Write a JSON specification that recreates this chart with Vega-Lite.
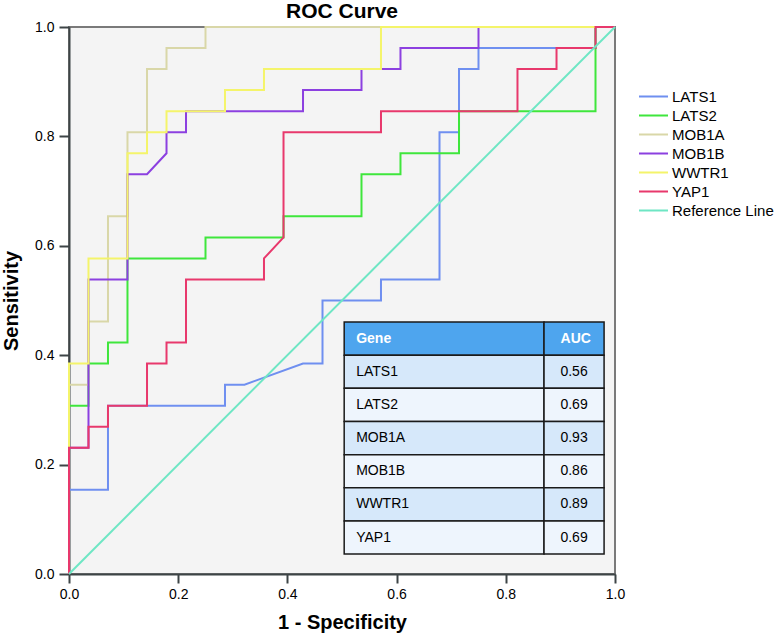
{
  "$schema": "https://vega.github.io/schema/vega-lite/v6.json",
  "width": 546,
  "height": 547,
  "autosize": "none",
  "padding": {"left": 69, "top": 27, "right": 162, "bottom": 59},
  "background": "white",
  "config": {
    "font": "Liberation Sans",
    "view": {"fill": "#f4f4f4", "stroke": "#7a7a7a", "strokeWidth": 2}
  },
  "title": {"text": "ROC Curve", "fontSize": 21, "fontWeight": "bold", "color": "black", "anchor": "middle", "offset": -2},
  "datasets": {
    "roc": [
      {"gene":"LATS1","i":0,"fpr":0,"tpr":0},{"gene":"LATS1","i":1,"fpr":0,"tpr":0.1538},{"gene":"LATS1","i":2,"fpr":0.0714,"tpr":0.1538},{"gene":"LATS1","i":3,"fpr":0.0714,"tpr":0.3077},{"gene":"LATS1","i":4,"fpr":0.2857,"tpr":0.3077},{"gene":"LATS1","i":5,"fpr":0.2857,"tpr":0.3462},{"gene":"LATS1","i":6,"fpr":0.3214,"tpr":0.3462},{"gene":"LATS1","i":7,"fpr":0.4286,"tpr":0.3846},{"gene":"LATS1","i":8,"fpr":0.4643,"tpr":0.3846},{"gene":"LATS1","i":9,"fpr":0.4643,"tpr":0.5},{"gene":"LATS1","i":10,"fpr":0.5714,"tpr":0.5},{"gene":"LATS1","i":11,"fpr":0.5714,"tpr":0.5385},{"gene":"LATS1","i":12,"fpr":0.6786,"tpr":0.5385},{"gene":"LATS1","i":13,"fpr":0.6786,"tpr":0.8077},{"gene":"LATS1","i":14,"fpr":0.7143,"tpr":0.8077},{"gene":"LATS1","i":15,"fpr":0.7143,"tpr":0.9231},{"gene":"LATS1","i":16,"fpr":0.75,"tpr":0.9231},{"gene":"LATS1","i":17,"fpr":0.75,"tpr":0.9615},{"gene":"LATS1","i":18,"fpr":0.9643,"tpr":0.9615},{"gene":"LATS1","i":19,"fpr":0.9643,"tpr":1},{"gene":"LATS1","i":20,"fpr":1,"tpr":1},
      {"gene":"LATS2","i":0,"fpr":0,"tpr":0},{"gene":"LATS2","i":1,"fpr":0,"tpr":0.3077},{"gene":"LATS2","i":2,"fpr":0.0357,"tpr":0.3077},{"gene":"LATS2","i":3,"fpr":0.0357,"tpr":0.3846},{"gene":"LATS2","i":4,"fpr":0.0714,"tpr":0.3846},{"gene":"LATS2","i":5,"fpr":0.0714,"tpr":0.4231},{"gene":"LATS2","i":6,"fpr":0.1071,"tpr":0.4231},{"gene":"LATS2","i":7,"fpr":0.1071,"tpr":0.5769},{"gene":"LATS2","i":8,"fpr":0.25,"tpr":0.5769},{"gene":"LATS2","i":9,"fpr":0.25,"tpr":0.6154},{"gene":"LATS2","i":10,"fpr":0.3929,"tpr":0.6154},{"gene":"LATS2","i":11,"fpr":0.3929,"tpr":0.6538},{"gene":"LATS2","i":12,"fpr":0.5357,"tpr":0.6538},{"gene":"LATS2","i":13,"fpr":0.5357,"tpr":0.7308},{"gene":"LATS2","i":14,"fpr":0.6071,"tpr":0.7308},{"gene":"LATS2","i":15,"fpr":0.6071,"tpr":0.7692},{"gene":"LATS2","i":16,"fpr":0.7143,"tpr":0.7692},{"gene":"LATS2","i":17,"fpr":0.7143,"tpr":0.8462},{"gene":"LATS2","i":18,"fpr":0.9643,"tpr":0.8462},{"gene":"LATS2","i":19,"fpr":0.9643,"tpr":1},{"gene":"LATS2","i":20,"fpr":1,"tpr":1},
      {"gene":"MOB1A","i":0,"fpr":0,"tpr":0},{"gene":"MOB1A","i":1,"fpr":0,"tpr":0.3462},{"gene":"MOB1A","i":2,"fpr":0.0357,"tpr":0.3462},{"gene":"MOB1A","i":3,"fpr":0.0357,"tpr":0.4615},{"gene":"MOB1A","i":4,"fpr":0.0714,"tpr":0.4615},{"gene":"MOB1A","i":5,"fpr":0.0714,"tpr":0.6538},{"gene":"MOB1A","i":6,"fpr":0.1071,"tpr":0.6538},{"gene":"MOB1A","i":7,"fpr":0.1071,"tpr":0.8077},{"gene":"MOB1A","i":8,"fpr":0.1429,"tpr":0.8077},{"gene":"MOB1A","i":9,"fpr":0.1429,"tpr":0.9231},{"gene":"MOB1A","i":10,"fpr":0.1786,"tpr":0.9231},{"gene":"MOB1A","i":11,"fpr":0.1786,"tpr":0.9615},{"gene":"MOB1A","i":12,"fpr":0.25,"tpr":0.9615},{"gene":"MOB1A","i":13,"fpr":0.25,"tpr":1},{"gene":"MOB1A","i":14,"fpr":1,"tpr":1},
      {"gene":"MOB1B","i":0,"fpr":0,"tpr":0},{"gene":"MOB1B","i":1,"fpr":0,"tpr":0.2308},{"gene":"MOB1B","i":2,"fpr":0.0357,"tpr":0.2308},{"gene":"MOB1B","i":3,"fpr":0.0357,"tpr":0.5385},{"gene":"MOB1B","i":4,"fpr":0.1071,"tpr":0.5385},{"gene":"MOB1B","i":5,"fpr":0.1071,"tpr":0.7308},{"gene":"MOB1B","i":6,"fpr":0.1429,"tpr":0.7308},{"gene":"MOB1B","i":7,"fpr":0.1786,"tpr":0.7692},{"gene":"MOB1B","i":8,"fpr":0.1786,"tpr":0.8077},{"gene":"MOB1B","i":9,"fpr":0.2143,"tpr":0.8077},{"gene":"MOB1B","i":10,"fpr":0.2143,"tpr":0.8462},{"gene":"MOB1B","i":11,"fpr":0.4286,"tpr":0.8462},{"gene":"MOB1B","i":12,"fpr":0.4286,"tpr":0.8846},{"gene":"MOB1B","i":13,"fpr":0.5357,"tpr":0.8846},{"gene":"MOB1B","i":14,"fpr":0.5357,"tpr":0.9231},{"gene":"MOB1B","i":15,"fpr":0.6071,"tpr":0.9231},{"gene":"MOB1B","i":16,"fpr":0.6071,"tpr":0.9615},{"gene":"MOB1B","i":17,"fpr":0.75,"tpr":0.9615},{"gene":"MOB1B","i":18,"fpr":0.75,"tpr":1},{"gene":"MOB1B","i":19,"fpr":1,"tpr":1},
      {"gene":"WWTR1","i":0,"fpr":0,"tpr":0},{"gene":"WWTR1","i":1,"fpr":0,"tpr":0.3846},{"gene":"WWTR1","i":2,"fpr":0.0357,"tpr":0.3846},{"gene":"WWTR1","i":3,"fpr":0.0357,"tpr":0.5769},{"gene":"WWTR1","i":4,"fpr":0.1071,"tpr":0.5769},{"gene":"WWTR1","i":5,"fpr":0.1071,"tpr":0.7692},{"gene":"WWTR1","i":6,"fpr":0.1429,"tpr":0.7692},{"gene":"WWTR1","i":7,"fpr":0.1429,"tpr":0.8077},{"gene":"WWTR1","i":8,"fpr":0.1786,"tpr":0.8077},{"gene":"WWTR1","i":9,"fpr":0.1786,"tpr":0.8462},{"gene":"WWTR1","i":10,"fpr":0.2857,"tpr":0.8462},{"gene":"WWTR1","i":11,"fpr":0.2857,"tpr":0.8846},{"gene":"WWTR1","i":12,"fpr":0.3571,"tpr":0.8846},{"gene":"WWTR1","i":13,"fpr":0.3571,"tpr":0.9231},{"gene":"WWTR1","i":14,"fpr":0.5714,"tpr":0.9231},{"gene":"WWTR1","i":15,"fpr":0.5714,"tpr":1},{"gene":"WWTR1","i":16,"fpr":1,"tpr":1},
      {"gene":"YAP1","i":0,"fpr":0,"tpr":0},{"gene":"YAP1","i":1,"fpr":0,"tpr":0.2308},{"gene":"YAP1","i":2,"fpr":0.0357,"tpr":0.2308},{"gene":"YAP1","i":3,"fpr":0.0357,"tpr":0.2692},{"gene":"YAP1","i":4,"fpr":0.0714,"tpr":0.2692},{"gene":"YAP1","i":5,"fpr":0.0714,"tpr":0.3077},{"gene":"YAP1","i":6,"fpr":0.1429,"tpr":0.3077},{"gene":"YAP1","i":7,"fpr":0.1429,"tpr":0.3846},{"gene":"YAP1","i":8,"fpr":0.1786,"tpr":0.3846},{"gene":"YAP1","i":9,"fpr":0.1786,"tpr":0.4231},{"gene":"YAP1","i":10,"fpr":0.2143,"tpr":0.4231},{"gene":"YAP1","i":11,"fpr":0.2143,"tpr":0.5385},{"gene":"YAP1","i":12,"fpr":0.3571,"tpr":0.5385},{"gene":"YAP1","i":13,"fpr":0.3571,"tpr":0.5769},{"gene":"YAP1","i":14,"fpr":0.3929,"tpr":0.6154},{"gene":"YAP1","i":15,"fpr":0.3929,"tpr":0.8077},{"gene":"YAP1","i":16,"fpr":0.5714,"tpr":0.8077},{"gene":"YAP1","i":17,"fpr":0.5714,"tpr":0.8462},{"gene":"YAP1","i":18,"fpr":0.8214,"tpr":0.8462},{"gene":"YAP1","i":19,"fpr":0.8214,"tpr":0.9231},{"gene":"YAP1","i":20,"fpr":0.8929,"tpr":0.9231},{"gene":"YAP1","i":21,"fpr":0.8929,"tpr":0.9615},{"gene":"YAP1","i":22,"fpr":0.9643,"tpr":0.9615},{"gene":"YAP1","i":23,"fpr":0.9643,"tpr":1},{"gene":"YAP1","i":24,"fpr":1,"tpr":1},
      {"gene":"Reference Line","i":0,"fpr":0,"tpr":0},{"gene":"Reference Line","i":1,"fpr":1,"tpr":1}
    ],
    "auc": [
      {"Gene":"Gene","AUC":"AUC"},
      {"Gene":"LATS1","AUC":"0.56"},
      {"Gene":"LATS2","AUC":"0.69"},
      {"Gene":"MOB1A","AUC":"0.93"},
      {"Gene":"MOB1B","AUC":"0.86"},
      {"Gene":"WWTR1","AUC":"0.89"},
      {"Gene":"YAP1","AUC":"0.69"}
    ]
  },
  "layer": [
    {
      "data": {"name": "roc"},
      "mark": {"type": "line", "strokeWidth": 2},
      "encoding": {
        "x": {"field": "fpr", "type": "quantitative",
          "scale": {"domain": [0, 1], "nice": false, "zero": true},
          "axis": {"values": [0, 0.2, 0.4, 0.6, 0.8, 1], "format": ".1f", "title": "1 - Specificity", "grid": false,
            "tickSize": 9, "tickWidth": 2, "tickColor": "#3d4446", "domainColor": "#3d4446", "domainWidth": 2,
            "labelFontSize": 14, "labelColor": "black", "labelPadding": 4, "labelFlush": false,
            "titleFontSize": 20, "titleFontWeight": "bold", "titleColor": "black", "titlePadding": 11}},
        "y": {"field": "tpr", "type": "quantitative",
          "scale": {"domain": [0, 1], "nice": false, "zero": true},
          "axis": {"values": [0, 0.2, 0.4, 0.6, 0.8, 1], "format": ".1f", "title": "Sensitivity", "grid": false,
            "tickSize": 10, "tickWidth": 2, "tickColor": "#3d4446", "domainColor": "#3d4446", "domainWidth": 2,
            "labelFontSize": 14, "labelColor": "black", "labelPadding": 5, "labelFlush": false,
            "titleFontSize": 20, "titleFontWeight": "bold", "titleColor": "black", "titlePadding": 13}},
        "color": {"field": "gene", "type": "nominal",
          "scale": {"domain": ["LATS1", "LATS2", "MOB1A", "MOB1B", "WWTR1", "YAP1", "Reference Line"],
            "range": ["#6f8ff0", "#3fe63c", "#d9d7a8", "#8c40e0", "#f4f46a", "#e8386c", "#6ee6c4"]},
          "legend": {"title": null, "orient": "none", "legendX": 569, "legendY": 62, "padding": 0,
            "symbolType": "stroke", "symbolSize": 841, "symbolStrokeWidth": 2, "clipHeight": 15, "rowPadding": 3,
            "labelFontSize": 15, "labelColor": "black", "labelOffset": 3}},
        "order": {"field": "i", "type": "quantitative"}
      }
    },
    {
      "data": {"name": "auc"},
      "encoding": {
        "y": {"field": "Gene", "type": "nominal",
          "scale": {"domain": ["_1", "_2", "_3", "_4", "_5", "_6", "_7", "_8", "Gene", "LATS1", "LATS2", "MOB1A", "MOB1B", "WWTR1", "YAP1"], "paddingInner": 0, "paddingOuter": 0.75, "align": 0.6},
          "axis": null}
      },
      "layer": [
        {
          "mark": {"type": "rect", "stroke": "#1a1a1a", "strokeWidth": 1.5},
          "encoding": {
            "x": {"datum": 0.504, "type": "quantitative"},
            "x2": {"datum": 0.87},
            "fill": {"field": "Gene", "type": "nominal",
              "scale": {"domain": ["Gene", "LATS1", "LATS2", "MOB1A", "MOB1B", "WWTR1", "YAP1"],
                "range": ["#4ea5ee", "#d6e8fa", "#eef5fd", "#d6e8fa", "#eef5fd", "#d6e8fa", "#eef5fd"]},
              "legend": null}
          }
        },
        {
          "mark": {"type": "rect", "stroke": "#1a1a1a", "strokeWidth": 1.5},
          "encoding": {
            "x": {"datum": 0.87, "type": "quantitative"},
            "x2": {"datum": 0.98},
            "fill": {"field": "Gene", "type": "nominal", "legend": null}
          }
        },
        {
          "transform": [{"filter": "datum.Gene === 'Gene'"}],
          "mark": {"type": "text", "align": "left", "baseline": "middle", "fontSize": 14, "fontWeight": "bold", "color": "white"},
          "encoding": {"x": {"datum": 0.526, "type": "quantitative"}, "text": {"field": "Gene"}}
        },
        {
          "transform": [{"filter": "datum.Gene === 'Gene'"}],
          "mark": {"type": "text", "align": "center", "baseline": "middle", "fontSize": 14, "fontWeight": "bold", "color": "white"},
          "encoding": {"x": {"datum": 0.928, "type": "quantitative"}, "text": {"field": "AUC"}}
        },
        {
          "transform": [{"filter": "datum.Gene !== 'Gene'"}],
          "mark": {"type": "text", "align": "left", "baseline": "middle", "fontSize": 14, "color": "black"},
          "encoding": {"x": {"datum": 0.526, "type": "quantitative"}, "text": {"field": "Gene"}}
        },
        {
          "transform": [{"filter": "datum.Gene !== 'Gene'"}],
          "mark": {"type": "text", "align": "center", "baseline": "middle", "fontSize": 14, "color": "black"},
          "encoding": {"x": {"datum": 0.925, "type": "quantitative"}, "text": {"field": "AUC"}}
        }
      ]
    }
  ],
  "resolve": {"scale": {"y": "independent"}}
}
